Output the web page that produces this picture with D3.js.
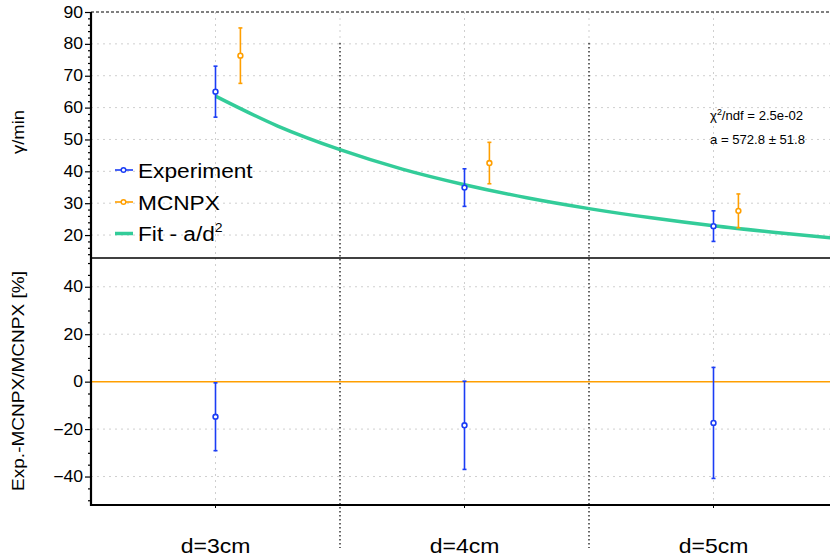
<!DOCTYPE html>
<html><head><meta charset="utf-8">
<script src="https://cdn.jsdelivr.net/npm/d3@7"></script>
<style>
body{margin:0;background:#fff}
svg{display:block}
text{font-family:"Liberation Sans",Arial,Helvetica,sans-serif;fill:#000}
</style>
</head><body>
<svg id="c" width="830" height="559"></svg>
<script>
// ---- data ----
const categories = ["d=3cm", "d=4cm", "d=5cm"];
const expRate = [65.0, 34.9, 22.8];
const expRateErr = [8.0, 5.9, 4.8];
const mcnpxRate = [76.3, 42.6, 27.6];
const mcnpxRateErr = [8.7, 6.5, 5.3];
const fitD = [3, 3.25, 3.5, 3.75, 4, 4.25, 4.5, 4.75, 5, 5.25, 5.5, 5.75];
const fitRate = [63.6, 54.2, 46.8, 40.7, 35.8, 31.7, 28.3, 25.4, 22.9, 20.8, 18.9, 17.3];
const residual = [-14.8, -18.4, -17.4];
const residualErr = [14.3, 18.6, 23.4];
const topTicks = [20, 30, 40, 50, 60, 70, 80, 90];
const bottomTicks = [-40, -20, 0, 20, 40];
const legendLabels = ["Experiment", "MCNPX", "Fit - a/d"];
const fitChi = "2.5e-02";
const fitA = "572.8";
const fitAErr = "51.8";

// ---- styles ----
const BLUE = "#1b3df5", ORANGE = "#ff9f00", GREEN = "#33cc99";
const L = 91, R = 838, T0 = 12, T1 = 258, B0 = 258.3, B1 = 505;
const SX = 1.15;

const svg = d3.select("#c");
const x = d3.scaleBand().domain(categories).range([L, R]).paddingInner(0).paddingOuter(0);
const xd = d3.scaleLinear().domain([2.5, 5.5]).range([L, R]);
const yT = d3.scaleLinear().domain([12.8, 90]).range([T1, T0]);
const yB = d3.scaleLinear().domain([-52, 52]).range([B1, B0]);
const cx = c => x(c) + x.bandwidth() / 2;
const off = x.bandwidth() * 0.1;

svg.append("defs").append("clipPath").attr("id", "clipT")
  .append("rect").attr("x", L).attr("y", T0).attr("width", 830 - L).attr("height", T1 - T0);

// grids
const grid = svg.append("g").attr("stroke", "#cfcfcf").attr("stroke-width", 1).attr("stroke-dasharray", "2,4");
grid.selectAll(".gt").data(topTicks.filter(d => d < 90)).join("line")
  .attr("x1", L).attr("x2", 830).attr("y1", d => yT(d)).attr("y2", d => yT(d));
grid.selectAll(".gb").data(bottomTicks.filter(d => d !== 0)).join("line")
  .attr("x1", L).attr("x2", 830).attr("y1", d => yB(d)).attr("y2", d => yB(d));
grid.selectAll(".gv").data(categories).join("line")
  .attr("x1", cx).attr("x2", cx).attr("y1", T0).attr("y2", B1);

// category separators
const seps = categories.slice(0, -1).map(c => x(c) + x.bandwidth());
svg.append("g").selectAll("line").data(seps).join("line")
  .attr("x1", d => d).attr("x2", d => d).attr("y1", T0).attr("y2", 43)
  .attr("stroke", "#cfcfcf").attr("stroke-dasharray", "2,4");
svg.append("g").selectAll("line").data(seps).join("line")
  .attr("x1", d => d).attr("x2", d => d).attr("y1", 43).attr("y2", 548)
  .attr("stroke", "#000").attr("stroke-width", 1.2).attr("stroke-dasharray", "1.5,2.5");

// zero line (bottom panel)
svg.append("line").attr("x1", L).attr("x2", 830).attr("y1", yB(0)).attr("y2", yB(0))
  .attr("stroke", ORANGE).attr("stroke-width", 1.5);

// fit curve
const line = d3.line().x((d, i) => xd(fitD[i])).y(d => yT(d)).curve(d3.curveMonotoneX);
svg.append("path").datum(fitRate).attr("d", line).attr("clip-path", "url(#clipT)")
  .attr("fill", "none").attr("stroke", GREEN).attr("stroke-width", 3.5);

// error bars + points
function errPoints(g, xs, vals, errs, ys, color) {
  const gg = g.append("g").attr("stroke", color).attr("stroke-width", 1.6).attr("fill", "#fff");
  vals.forEach((v, i) => {
    const xx = xs[i];
    gg.append("line").attr("x1", xx).attr("x2", xx).attr("y1", ys(v + errs[i])).attr("y2", ys(v - errs[i]));
    [v + errs[i], v - errs[i]].forEach(e => gg.append("line")
      .attr("x1", xx - 2).attr("x2", xx + 2).attr("y1", ys(e)).attr("y2", ys(e)));
    gg.append("circle").attr("cx", xx).attr("cy", ys(v)).attr("r", 2.4);
  });
}
errPoints(svg, categories.map(c => cx(c) + off), mcnpxRate, mcnpxRateErr, yT, ORANGE);
errPoints(svg, categories.map(cx), expRate, expRateErr, yT, BLUE);
errPoints(svg, categories.map(cx), residual, residualErr, yB, BLUE);

// axes
function styleAxis(g, lab) {
  g.select(".domain").remove();
  g.selectAll(".tick line").attr("stroke", "#000").attr("stroke-width", 1.2);
  if (lab) g.selectAll(".tick text").attr("font-size", 16).attr("x", -8 / 1.1)
    .attr("transform", `scale(1.1,1)`).attr("fill", "#000");
  else g.selectAll(".tick text").remove();
}
const minorT = d3.range(14, 91, 2).filter(d => d % 10 !== 0);
const minorB = d3.range(-50, 51, 5).filter(d => d % 20 !== 0);
styleAxis(svg.append("g").attr("transform", `translate(${L},0)`)
  .call(d3.axisLeft(yT).tickValues(topTicks).tickSize(6).tickFormat(d3.format("d"))), true);
styleAxis(svg.append("g").attr("transform", `translate(${L},0)`)
  .call(d3.axisLeft(yT).tickValues(minorT).tickSize(3)), false);
styleAxis(svg.append("g").attr("transform", `translate(${L},0)`)
  .call(d3.axisLeft(yB).tickValues(bottomTicks).tickSize(6).tickFormat(d3.format("d"))), true);
styleAxis(svg.append("g").attr("transform", `translate(${L},0)`)
  .call(d3.axisLeft(yB).tickValues(minorB).tickSize(3)), false);

const xa = svg.append("g").attr("transform", `translate(0,${B1})`)
  .call(d3.axisBottom(x).tickSize(3));
xa.select(".domain").remove();
xa.selectAll(".tick line").attr("stroke", "#000");
xa.selectAll(".tick text").attr("font-size", 20).attr("y", 48).attr("dy", 0)
  .attr("transform", `scale(${SX},1)`).attr("fill", "#000");

// frame lines
svg.append("line").attr("x1", L).attr("x2", 830).attr("y1", T0).attr("y2", T0)
  .attr("stroke", "#000").attr("stroke-width", 1).attr("stroke-dasharray", "3,2");
svg.append("line").attr("x1", L).attr("x2", 830).attr("y1", T1).attr("y2", T1)
  .attr("stroke", "#000").attr("stroke-width", 1.5);
svg.append("line").attr("x1", L).attr("x2", 830).attr("y1", B1).attr("y2", B1)
  .attr("stroke", "#000").attr("stroke-width", 2.2);
svg.append("line").attr("x1", L).attr("x2", L).attr("y1", T0).attr("y2", B1 + 1)
  .attr("stroke", "#000").attr("stroke-width", 2.2);

// y titles
svg.append("text").attr("transform", `translate(24,132) rotate(-90) scale(${SX},1)`)
  .attr("text-anchor", "middle").attr("font-size", 16).text("γ/min");
svg.append("text").attr("transform", `translate(24,381) rotate(-90) scale(1.12,1)`)
  .attr("text-anchor", "middle").attr("font-size", 17).text("Exp.-MCNPX/MCNPX [%]");

// legend
const rows = [170, 202, 233.5];
const lg = svg.append("g");
[[BLUE, true], [ORANGE, true], [GREEN, false]].forEach(([col, pt], i) => {
  const y = rows[i];
  lg.append("line").attr("x1", 115).attr("x2", 133).attr("y1", y).attr("y2", y)
    .attr("stroke", col).attr("stroke-width", pt ? 1.6 : 3.5);
  if (pt) lg.append("circle").attr("cx", 123.5).attr("cy", y).attr("r", 2.3)
    .attr("fill", "#fff").attr("stroke", col).attr("stroke-width", 1.5);
  const t = lg.append("text").attr("transform", `translate(138,${y + 7.5}) scale(1.08,1)`)
    .attr("font-size", 21).text(legendLabels[i]);
  if (i === 2) t.append("tspan").attr("dy", -9).attr("font-size", 13).text("2");
});

// fit info
const t1 = svg.append("text").attr("transform", "translate(710,120) scale(1.05,1)").attr("font-size", 12.5);
t1.append("tspan").text("χ");
t1.append("tspan").attr("dy", -5).attr("font-size", 8.5).text("2");
t1.append("tspan").attr("dy", 5).text("/ndf = " + fitChi);
svg.append("text").attr("transform", "translate(710,144) scale(1.05,1)").attr("font-size", 12.5)
  .text("a = " + fitA + " ± " + fitAErr);
</script>
</body></html>
